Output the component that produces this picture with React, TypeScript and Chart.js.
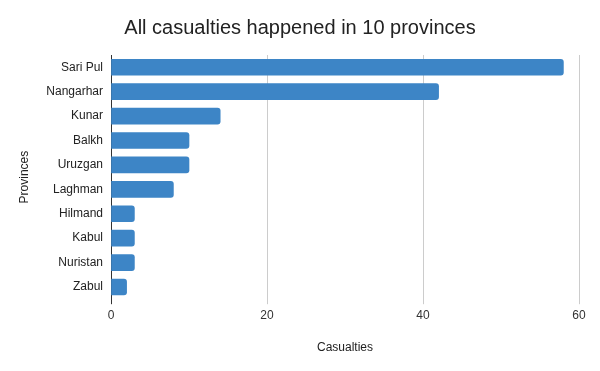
import React, { useEffect, useRef } from "react";
import { Chart, registerables } from "chart.js";

Chart.register(...registerables);

const provinces = ["Sari Pul", "Nangarhar", "Kunar", "Balkh", "Uruzgan", "Laghman", "Hilmand", "Kabul", "Nuristan", "Zabul"];
const casualties = [58, 42, 14, 10, 10, 8, 3, 3, 3, 2];
const xTicks = [0, 20, 40, 60];

const FONT = "'Liberation Sans', Arial, sans-serif";

export default function App() {
  const ref = useRef<HTMLCanvasElement | null>(null);
  useEffect(() => {
    if (!ref.current) return;
    const chart = new Chart(ref.current, {
      type: "bar",
      data: {
        labels: provinces,
        datasets: [
          {
            label: "Casualties",
            data: casualties,
            backgroundColor: "#3d85c6",
            borderRadius: 3,
            borderSkipped: "start",
            barThickness: 16,
          },
        ],
      },
      options: {
        indexAxis: "y",
        animation: false,
        responsive: true,
        maintainAspectRatio: false,
        layout: { padding: { left: 0, right: 0, top: 0, bottom: 16 } },
        plugins: {
          legend: { display: false },
          tooltip: { enabled: false },
          title: {
            display: true,
            text: "All casualties happened in 10 provinces",
            color: "#222",
            font: { family: FONT, size: 20, weight: "normal" },
            padding: { top: 16, bottom: 15 },
          },
        },
        scales: {
          x: {
            min: 0,
            max: 60,
            afterBuildTicks: (scale: any) => {
              scale.ticks = xTicks.map((v) => ({ value: v }));
            },
            ticks: {
              color: "#333",
              font: { family: FONT, size: 12 },
              padding: 4,
            },
            grid: {
              color: (ctx: any) => (ctx.tick && ctx.tick.value === 0 ? "#333" : "#cccccc"),
              tickLength: 5,
              drawTicks: true,
            },
            border: { display: false },
            title: {
              display: true,
              text: "Casualties",
              color: "#222",
              font: { family: FONT, size: 12 },
              padding: { top: 14, bottom: 0 },
            },
          },
          y: {
            afterFit: (scale: any) => {
              scale.width = 111;
            },
            ticks: {
              color: "#222",
              font: { family: FONT, size: 12 },
              padding: 0,
            },
            grid: { display: false },
            border: { display: true, color: "#333", width: 1 },
            title: {
              display: true,
              text: "Provinces",
              color: "#222",
              font: { family: FONT, size: 12 },
              padding: { top: 17, bottom: 0 },
            },
          },
          yRight: {
            type: "linear",
            position: "right",
            display: true,
            afterFit: (scale: any) => {
              scale.width = 21;
            },
            ticks: { display: false },
            grid: { display: false },
            border: { display: false },
          },
        },
      },
    } as any);
    return () => chart.destroy();
  }, []);
  return (
    <div style={{ position: "absolute", left: 0, top: 0, width: 600, height: 371, background: "#fff" }}>
      <canvas ref={ref} />
    </div>
  );
}
